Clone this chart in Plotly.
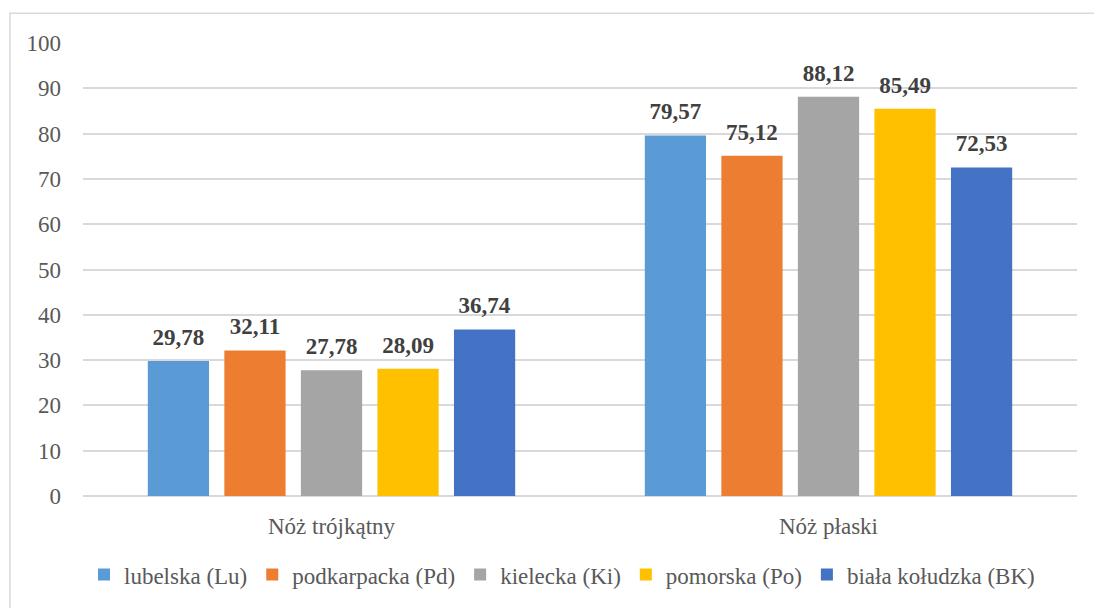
import plotly.graph_objects as go

categories = ["Nóż trójkątny", "Nóż płaski"]
series_names = ["lubelska (Lu)", "podkarpacka (Pd)", "kielecka (Ki)", "pomorska (Po)", "biała kołudzka (BK)"]
values = [
    [29.78, 79.57],
    [32.11, 75.12],
    [27.78, 88.12],
    [28.09, 85.49],
    [36.74, 72.53],
]
colors = ["#5B9BD5", "#ED7D31", "#A5A5A5", "#FFC000", "#4472C4"]
y_ticks = [0, 10, 20, 30, 40, 50, 60, 70, 80, 90, 100]

FONT = "Liberation Serif"
LABEL_GAP = 1.8  # extra space (in axis units) between bar top and its label

fig = go.Figure()
for i, (name, vals, col) in enumerate(zip(series_names, values, colors)):
    fig.add_trace(go.Bar(
        x=categories, y=vals, name=name, marker_color=col, marker_line_width=0,
        offsetgroup=str(i), hoverinfo="y",
    ))
    fig.add_trace(go.Bar(
        x=categories, y=[LABEL_GAP] * len(vals), base=vals, offsetgroup=str(i),
        marker_color="rgba(0,0,0,0)", marker_line_width=0, showlegend=False, hoverinfo="skip",
        text=[f"{v:.2f}".replace(".", ",") for v in vals],
        textposition="outside", cliponaxis=False,
        textfont=dict(family=FONT, size=23, color="#404040", weight="bold"),
    ))

W, H = 1094, 608
L, R, T, B = 83, 17, 43, 110
pw, ph = W - L - R, H - T - B

fig.update_layout(
    width=W, height=H, barmode="group", bargap=0.23, bargroupgap=0.2,
    margin=dict(l=L, r=R, t=T, b=B),
    paper_bgcolor="white", plot_bgcolor="white",
    font=dict(family=FONT, size=23, color="#595959"),
    legend=dict(orientation="h", x=(562 - L) / pw, xanchor="center", y=(498 - 577) / ph, yanchor="middle",
                font=dict(family=FONT, size=23, color="#595959"), itemwidth=30, tracegroupgap=0),
    xaxis=dict(showline=False, ticks="", tickfont=dict(family=FONT, size=23, color="#595959"), ticklabelstandoff=14),
    yaxis=dict(range=[0, 100], tickvals=y_ticks, showgrid=True, gridcolor="#D9D9D9", gridwidth=1.5,
               zeroline=True, zerolinecolor="#D9D9D9", zerolinewidth=1.5,
               tickfont=dict(family=FONT, size=23, color="#595959"), ticklabelstandoff=21, showline=False),
    shapes=[dict(type="rect", xref="paper", yref="paper",
                 x0=(10 - L) / pw, x1=(W + 5 - L) / pw, y0=-(H + 5 - T - ph) / ph, y1=1 + (T - 13) / ph,
                 line=dict(color="#D9D9D9", width=1.5), layer="below")],
)

fig.write_html("out.html")
